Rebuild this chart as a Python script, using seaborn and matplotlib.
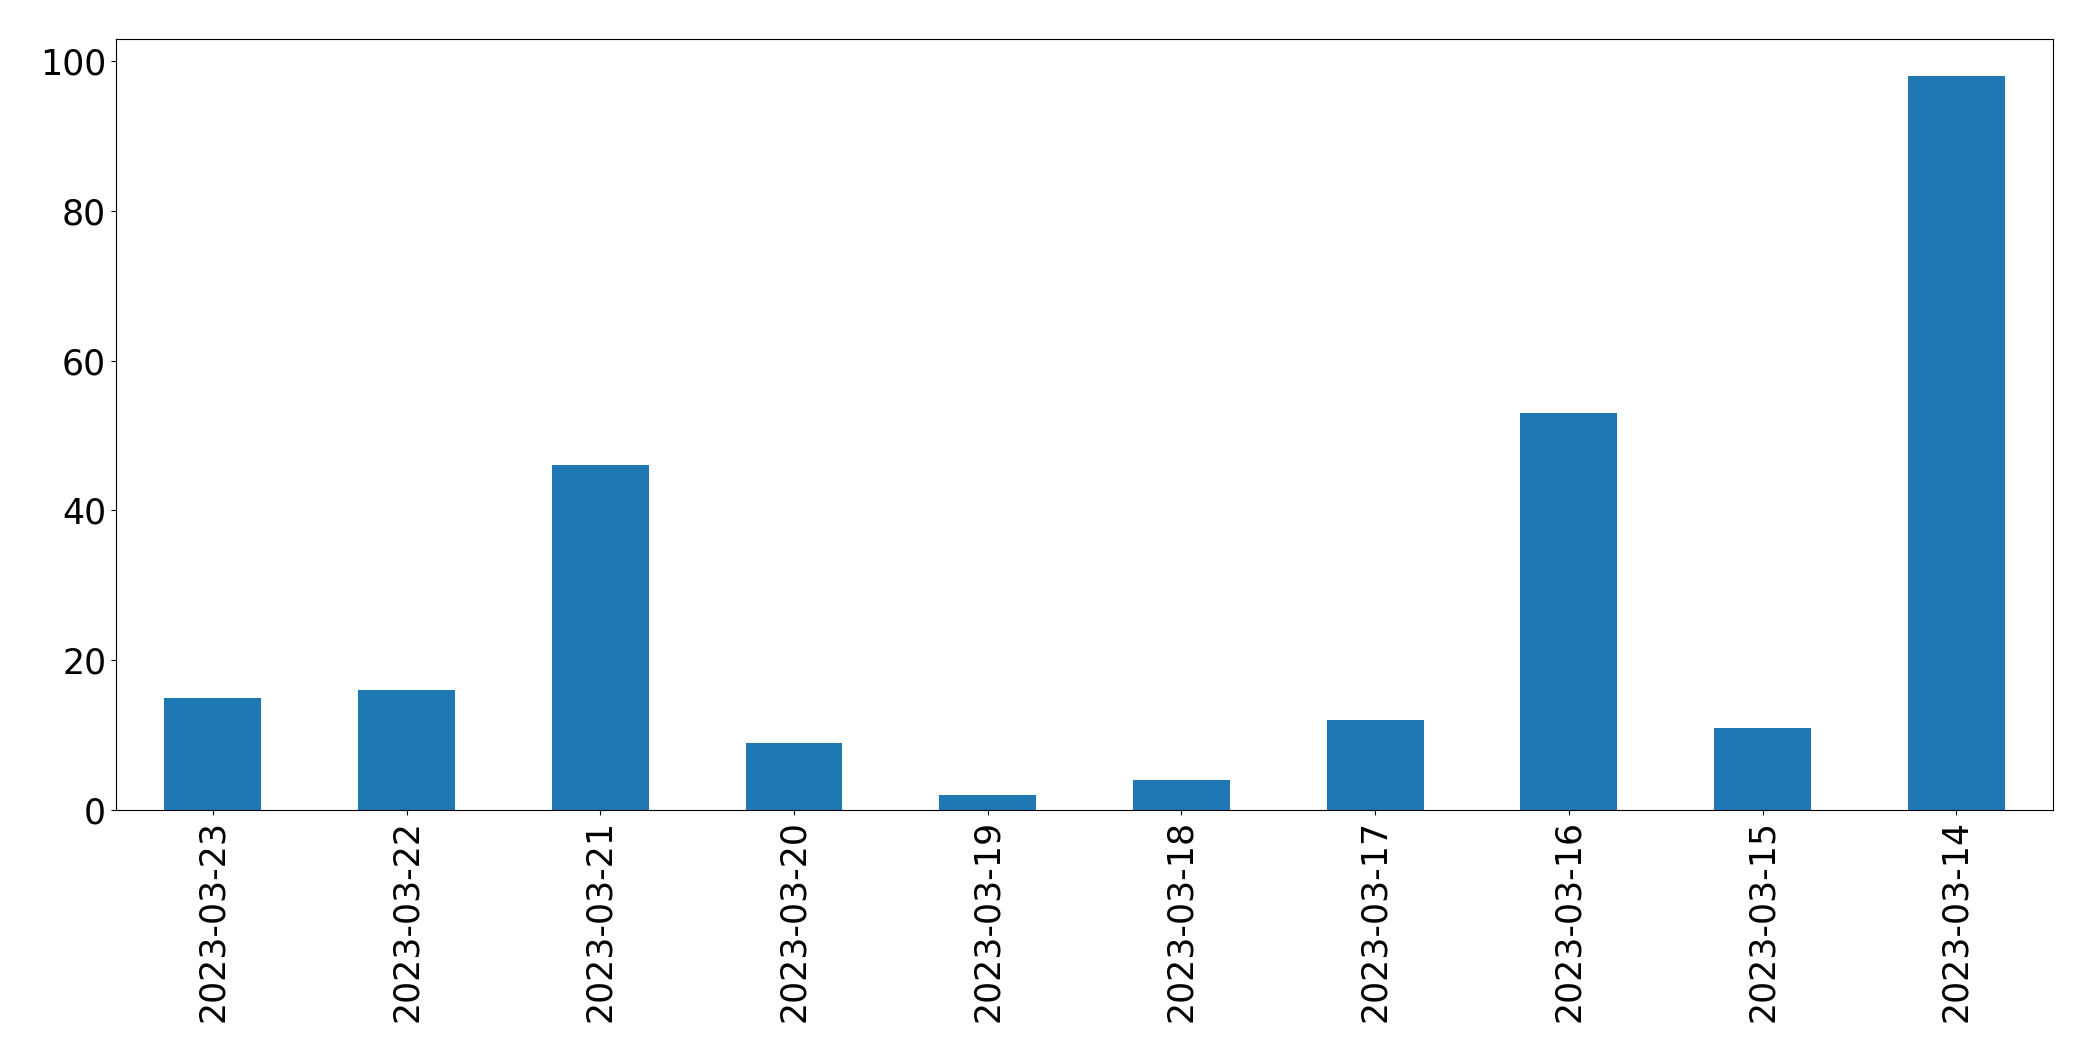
import matplotlib
matplotlib.use("Agg")
import matplotlib.pyplot as plt
import seaborn as sns
import pandas as pd

dates = ["2023-03-23", "2023-03-22", "2023-03-21", "2023-03-20", "2023-03-19",
         "2023-03-18", "2023-03-17", "2023-03-16", "2023-03-15", "2023-03-14"]
counts = [15, 16, 46, 9, 2, 4, 12, 53, 11, 98]

df = pd.DataFrame({"date": dates, "count": counts})

plt.rcParams['font.family'] = ['DejaVu Sans']
fig, ax = plt.subplots(figsize=(20.93, 10.61), dpi=100)
fig.subplots_adjust(left=0.0554, right=0.981, top=0.963, bottom=0.2366)

sns.barplot(data=df, x="date", y="count", order=dates, color="#1f77b4",
            saturation=1, width=0.5, linewidth=0, ax=ax)
ax.set_xlim(-0.5, len(dates) - 0.5)
ax.set_ylim(0, max(counts) * 1.05)
ax.set_xlabel("")
ax.set_ylabel("")
ax.tick_params(axis="both", labelsize=25, colors="black")
plt.setp(ax.get_xticklabels(), rotation=90)
for s in ax.spines.values():
    s.set_visible(True)
    s.set_color("black")

fig.savefig("out.png", dpi=100)
